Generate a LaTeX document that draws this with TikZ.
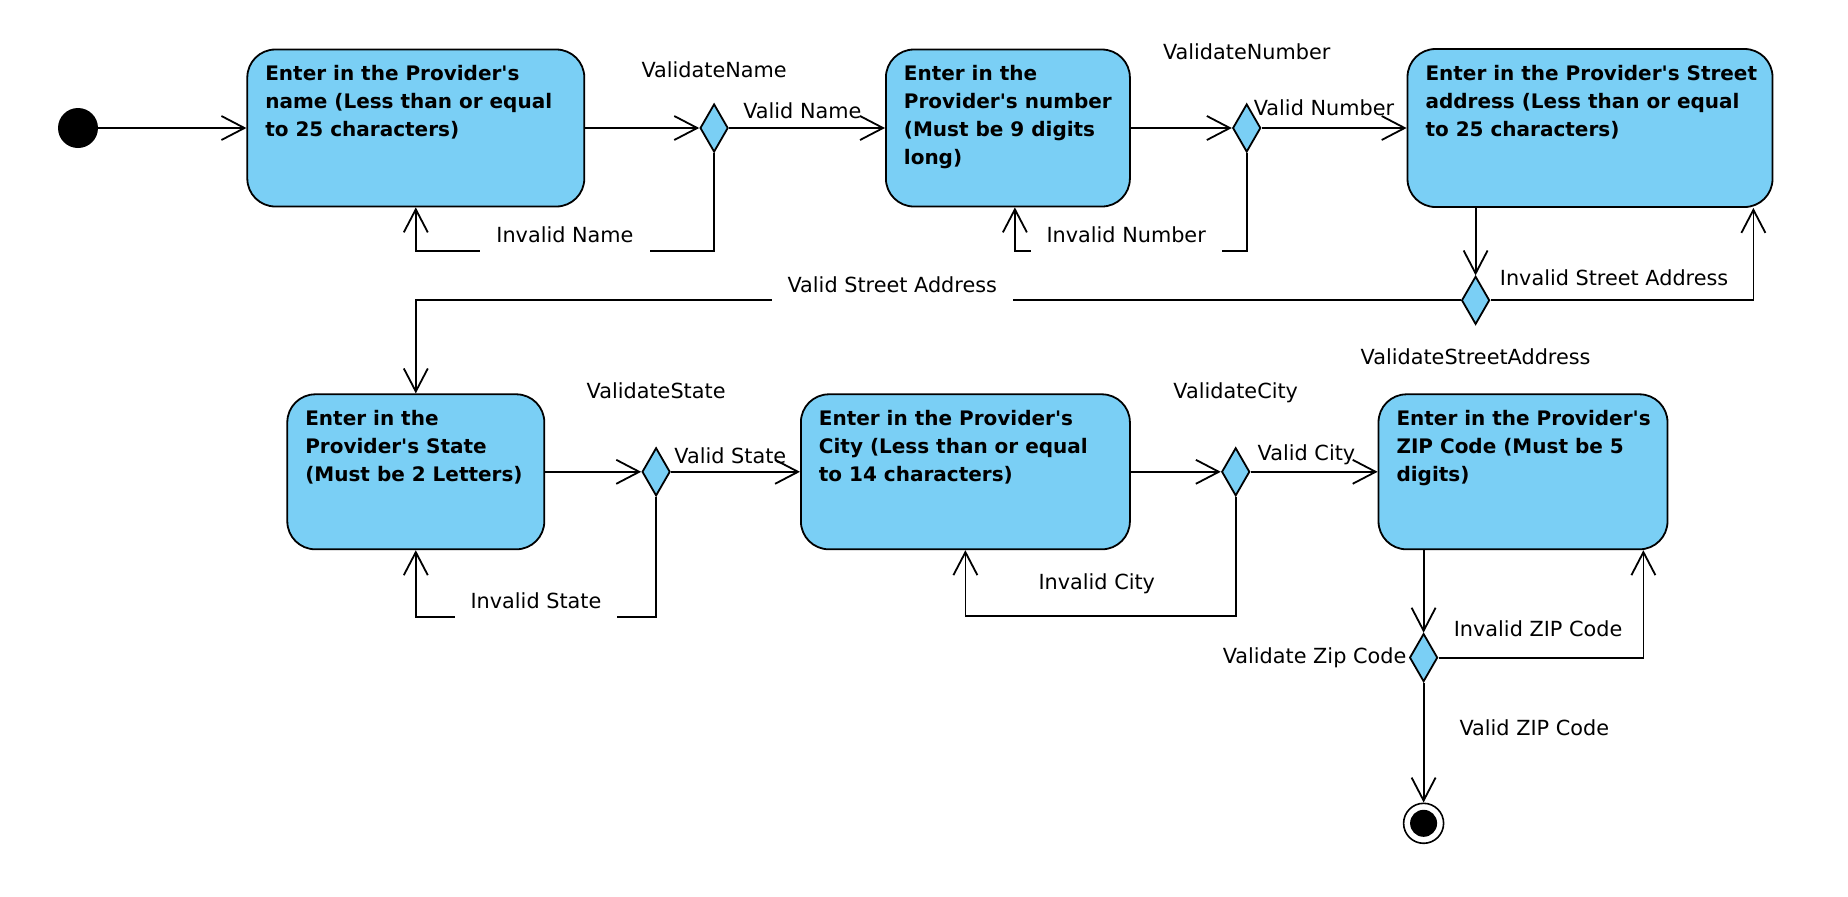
\documentclass[tikz,border=0pt]{standalone}
\usepackage{fontspec}
\newfontfamily\dejavu{DejaVu Sans}
\usetikzlibrary{positioning,arrows.meta,shapes.geometric}
\definecolor{actblue}{RGB}{122,207,245}
\newcommand{\actext}[3]{\parbox[c][#2][t]{#1}{\raggedright\leftskip=9pt #3}}

\begin{document}
\begin{tikzpicture}[
    font=\dejavu\fontsize{10.4}{12}\selectfont,
    actbox/.style={draw, line width=0.9pt, fill=actblue, rounded corners=14pt,
                   inner xsep=0pt, inner ysep=8pt, font=\dejavu\fontsize{10}{14}\selectfont\bfseries},
    choice/.style={diamond, draw, line width=0.9pt, fill=actblue, inner sep=0pt,
                   minimum width=14pt, minimum height=24pt},
    startdot/.style={circle, fill=black, minimum size=20pt, inner sep=0pt},
    enddot/.style={circle, draw, line width=0.8pt, fill=white, minimum size=20pt, inner sep=0pt,
                   path picture={\fill[black] (path picture bounding box.center) circle (6.75pt);}},
    lbl/.style={inner sep=0pt},
    lblw/.style={fill=white, inner xsep=8pt, inner ysep=4.5pt, anchor=south, yshift=-1pt},
    flow/.style={line width=0.9pt, -{Straight Barb[length=11.5pt, width=12pt]}},
  ]
  \useasboundingbox (0,0) rectangle (924pt,-448pt);

  % first row
  \node[startdot] (start) at (39pt,-64pt) {};
  \node[actbox, right=74pt of start] (b1)
    {\actext{168.5pt}{62.5pt}{Enter in the Provider's\\ name (Less than or equal\\ to 25 characters)}};
  \node[choice, right=57pt of b1] (d1) {};
  \node[actbox, right=78pt of d1] (b2)
    {\actext{122pt}{62.5pt}{Enter in the\\ Provider's number\\ (Must be 9 digits\\ long)}};
  \node[choice, right=50.5pt of b2] (d2) {};
  \node[actbox, right=72.5pt of d2] (b3)
    {\actext{182.5pt}{63pt}{Enter in the Provider's Street\\ address (Less than or equal\\ to 25 characters)}};
  \node[choice, below=33.75pt of b3.south west, xshift=34.5pt] (d3) {};

  % second row
  \node[actbox, below=93pt of b1] (b4)
    {\actext{128.5pt}{61.5pt}{Enter in the\\ Provider's State\\ (Must be 2 Letters)}};
  \node[choice, right=48pt of b4] (d4) {};
  \node[actbox, right=64.5pt of d4] (b5)
    {\actext{164.5pt}{61.5pt}{Enter in the Provider's\\ City (Less than or equal\\ to 14 characters)}};
  \node[choice, right=45pt of b5] (d5) {};
  \node[actbox, right=63.5pt of d5] (b6)
    {\actext{144.5pt}{61.5pt}{Enter in the Provider's\\ ZIP Code (Must be 5\\ digits)}};
  \node[choice, below=41.25pt of b6.south west, xshift=23pt] (d6) {};
  \node[enddot, below=60pt of d6] (finish) {};

  % decision names
  \node[lbl, above=12.5pt of d1] (vname) {ValidateName};
  \node[lbl, above=21.5pt of d2] (vnumber) {ValidateNumber};
  \node[lbl, below=11.5pt of d3] (vstreet) {ValidateStreetAddress};
  \node[lbl, above=24pt of d4] (vstate) {ValidateState};
  \node[lbl, above=22pt of d5] (vcity) {ValidateCity};
  \node[lbl, left=1pt of d6] (vzip) {Validate Zip Code};

  % transitions
  \draw[flow] (start) -- (b1);
  \draw[flow] (b1) -- (d1);
  \draw[flow] (d1) -- node[lbl, pos=0.47, above=4pt] (lvname) {Valid Name} (b2);
  \draw[flow] (d1.south) -- ++(0,-49pt) -| node[lblw, pos=0.25] (linvname) {Invalid Name} (b1.south);
  \draw[flow] (b2) -- (d2);
  \draw[flow] (d2) -- node[lbl, pos=0.43, above=5.5pt] (lvnumber) {Valid Number} (b3);
  \draw[flow] (d2.south) -- ++(0,-49pt) -| node[lblw, pos=0.26] (linvnumber) {Invalid Number} ([xshift=3.5pt]b2.south);
  \draw[flow] (d3 |- b3.south) -- (d3);
  \draw[flow] (d3) -| node[lbl, pos=0.235, above=7pt] (linvstreet) {Invalid Street Address} ([xshift=-10pt]b3.south east);
  \draw[flow] (d3) -| node[lblw, pos=0.272] (lvstreet) {Valid Street Address} (b4);

  \draw[flow] (b4) -- (d4);
  \draw[flow] (d4) -- node[lbl, pos=0.46, above=3.5pt] (lvstate) {Valid State} (b5);
  \draw[flow] (d4.south) -- ++(0,-60pt) -| node[lblw, pos=0.25] (linvstate) {Invalid State} (b4.south);
  \draw[flow] (b5) -- (d5);
  \draw[flow] (d5) -- node[lbl, pos=0.44, above=3pt] (lvcity) {Valid City} (b6);
  \draw[flow] (d5.south) -- ++(0,-59.5pt) -| node[lbl, pos=0.257, above=10.5pt] (linvcity) {Invalid City} (b5.south);
  \draw[flow] (d6 |- b6.south) -- (d6);
  \draw[flow] (d6) -| node[lbl, pos=0.243, above=9.75pt] (linvzip) {Invalid ZIP Code} ([xshift=-12.5pt]b6.south east);
  \draw[flow] (d6) -- node[lbl, pos=0.38, right=17.5pt] (lvzip) {Valid ZIP Code} (finish);
\end{tikzpicture}
\end{document}
